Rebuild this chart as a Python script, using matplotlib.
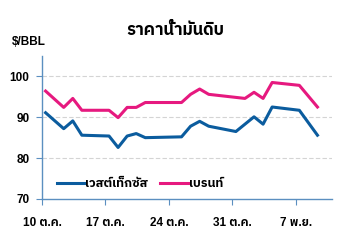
import numpy as np
import pandas as pd
import matplotlib
matplotlib.use("Agg")
import matplotlib.pyplot as plt

plt.rcParams['font.family'] = ['Liberation Sans', 'IBM Plex Sans Thai', 'DejaVu Sans']

# ข้อมูล (อ่านจากกราฟ)
wti_dates = ["2022-10-10", "2022-10-12", "2022-10-13", "2022-10-14", "2022-10-17",
             "2022-10-18", "2022-10-19", "2022-10-20", "2022-10-21", "2022-10-25",
             "2022-10-26", "2022-10-27", "2022-10-28", "2022-10-31", "2022-11-02",
             "2022-11-03", "2022-11-04", "2022-11-07", "2022-11-09"]
wti = [91.1, 87.2, 89.1, 85.6, 85.4, 82.6, 85.4, 86.0, 85.0, 85.2,
       87.8, 89.0, 87.8, 86.5, 90.1, 88.3, 92.5, 91.7, 85.6]

brent_dates = ["2022-10-10", "2022-10-12", "2022-10-13", "2022-10-14", "2022-10-17",
               "2022-10-18", "2022-10-19", "2022-10-20", "2022-10-21", "2022-10-25",
               "2022-10-26", "2022-10-27", "2022-10-28", "2022-11-01", "2022-11-02",
               "2022-11-03", "2022-11-04", "2022-11-07", "2022-11-09"]
brent = [96.4, 92.4, 94.6, 91.7, 91.7, 89.9, 92.4, 92.4, 93.6, 93.6,
         95.6, 96.9, 95.6, 94.6, 96.1, 94.6, 98.5, 97.8, 92.5]

tick_dates = ["2022-10-10", "2022-10-17", "2022-10-24", "2022-10-31", "2022-11-07"]
tick_labels = ["10 ต.ค.", "17 ต.ค.", "24 ต.ค.", "31 ต.ค.", "7 พ.ย."]
y_ticks = [70, 80, 90, 100]

start = pd.Timestamp("2022-10-10")
def days(d):
    return np.array([(pd.Timestamp(s) - start).days for s in d], dtype=float)

blue = "#0b5c9e"
pink = "#e6197f"
axis_col = "#5b8fc0"

fig = plt.figure(figsize=(3.44, 2.4), dpi=100)
ax = fig.add_axes([0.122, 0.171, 0.843, 0.596])

ax.plot(days(wti_dates), wti, color=blue, lw=2.2, label="เวสต์เท็กซัส")
ax.plot(days(brent_dates), brent, color=pink, lw=2.2, label="เบรนท์")

ax.set_ylim(70, 105)
ax.set_yticks(y_ticks)
ax.set_xlim(-0.4, 31.6)
ax.set_xticks(days(tick_dates) - 0.4)
ax.set_xticklabels(tick_labels)

for y in y_ticks[1:]:
    ax.axhline(y, color="#d4d4d4", lw=0.8, ls=(0, (4, 2)), zorder=0)

for s in ["top", "right"]:
    ax.spines[s].set_visible(False)
for s in ["left", "bottom"]:
    ax.spines[s].set_color(axis_col)
    ax.spines[s].set_linewidth(1.0)
ax.tick_params(axis="both", colors=axis_col, length=4, width=0.8, labelsize=8.5)
ax.tick_params(axis="y", pad=5)
ax.tick_params(axis="x", pad=9)
for lab in ax.get_xticklabels() + ax.get_yticklabels():
    lab.set_color("black")
    lab.set_fontweight("bold")

leg = ax.legend(loc="lower left", ncol=2, frameon=False, handlelength=2.2,
                columnspacing=1.0, handletextpad=0.1, borderaxespad=0.3,
                prop={"size": 9, "weight": "bold"}, bbox_to_anchor=(0.02, 0.0))

fig.text(0.51, 0.875, "ราคาน้ำมันดิบ", ha="center", va="center", fontsize=12, fontweight="bold")
fig.text(0.035, 0.825, "$/BBL", ha="left", va="center", fontsize=8.5, fontweight="bold")

fig.savefig("out.png", dpi=100)
